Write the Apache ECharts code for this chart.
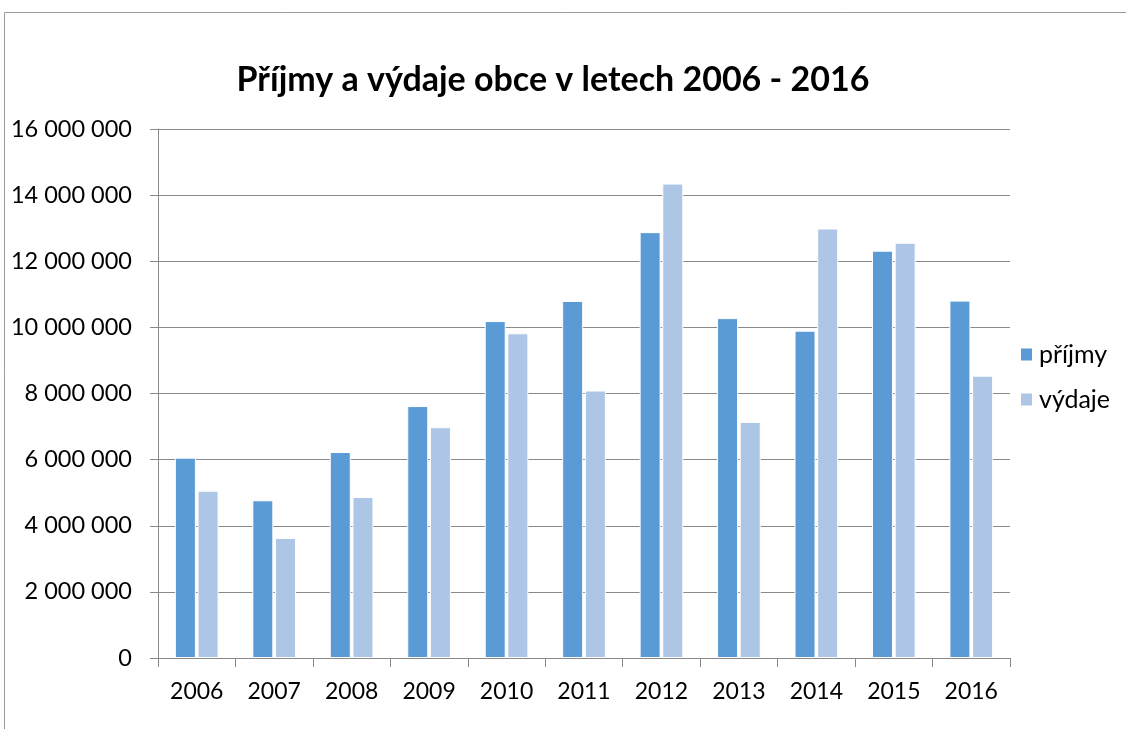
<!DOCTYPE html>
<html>
<head>
<meta charset="utf-8">
<script src="https://cdn.jsdelivr.net/npm/echarts@6/dist/echarts.min.js"></script>
<style>
  html, body { margin: 0; padding: 0; background: #fff; }
  #chart { width: 1126px; height: 729px; }
</style>
</head>
<body>
<div id="chart"></div>
<script>
var years = ['2006', '2007', '2008', '2009', '2010', '2011', '2012', '2013', '2014', '2015', '2016'];
var prijmy = [6060000, 4770000, 6230000, 7620000, 10190000, 10800000, 12880000, 10280000, 9900000, 12320000, 10810000];
var vydaje = [5060000, 3630000, 4870000, 6980000, 9820000, 8090000, 14350000, 7140000, 12990000, 12560000, 8540000];

var fontFam = 'Lato, "Open Sans", sans-serif';
var gridColor = '#898989';

// mezery po tisících jako v originále
function fmt(v) {
    return String(v).replace(/\B(?=(\d{3})+(?!\d))/g, ' ');
}

var chart = echarts.init(document.getElementById('chart'));
chart.setOption({
    animation: false,
    title: {
        text: 'Příjmy a výdaje obce v letech 2006 - 2016',
        left: 548,
        textAlign: 'center',
        top: 58,
        textStyle: { fontFamily: fontFam, fontSize: 34, fontWeight: 'bold', color: '#000' }
    },
    legend: {
        orient: 'vertical',
        left: 1014,
        top: 337,
        itemWidth: 13,
        itemHeight: 14,
        itemGap: 20,
        icon: 'rect',
        textStyle: { fontFamily: fontFam, fontSize: 25, color: '#000', padding: [0, 0, 0, 1] },
        data: ['příjmy', 'výdaje']
    },
    graphic: [
        { type: 'line', shape: { x1: 4.5, y1: 12.5, x2: 1126, y2: 12.5 }, style: { stroke: '#9a9a9a', lineWidth: 1 } },
        { type: 'line', shape: { x1: 4.5, y1: 12.5, x2: 4.5, y2: 729 }, style: { stroke: '#9a9a9a', lineWidth: 1 } }
    ],
    grid: { left: 158, right: 116, top: 129, bottom: 71 },
    xAxis: {
        type: 'category',
        data: years,
        axisLine: { lineStyle: { color: gridColor, width: 1 } },
        axisTick: { show: true, length: 9, lineStyle: { color: gridColor } },
        axisLabel: { fontFamily: fontFam, fontSize: 23, color: '#000', margin: 22 }
    },
    yAxis: {
        type: 'value',
        min: 0,
        max: 16000000,
        interval: 2000000,
        axisLine: { show: true, lineStyle: { color: gridColor, width: 1 } },
        axisTick: { show: true, length: 8, lineStyle: { color: gridColor } },
        splitLine: { lineStyle: { color: gridColor, width: 1 } },
        axisLabel: { fontFamily: fontFam, fontSize: 23.5, color: '#000', margin: 26, formatter: fmt }
    },
    series: [
        {
            name: 'příjmy',
            type: 'bar',
            data: prijmy,
            barWidth: 21,
            barGap: '8%',
            itemStyle: { color: '#5B9BD5', borderColor: '#fff', borderWidth: 1 }
        },
        {
            name: 'výdaje',
            type: 'bar',
            data: vydaje,
            barWidth: 21,
            itemStyle: { color: '#ADC6E6', borderColor: '#fff', borderWidth: 1 }
        }
    ]
});
</script>
</body>
</html>
